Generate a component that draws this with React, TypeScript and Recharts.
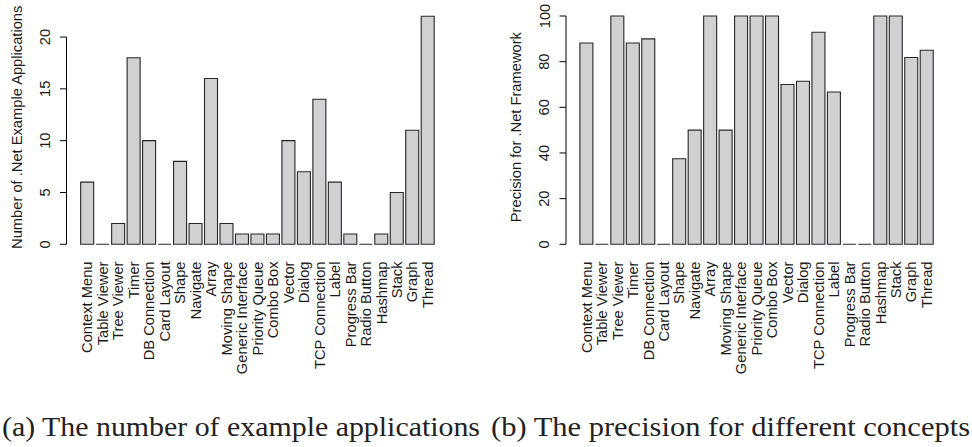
import React from 'react';
import { BarChart, Bar, XAxis, YAxis } from 'recharts';

const categories = [
  'Context Menu', 'Table Viewer', 'Tree Viewer', 'Timer', 'DB Connection', 'Card Layout',
  'Shape', 'Navigate', 'Array', 'Moving Shape', 'Generic Interface', 'Priority Queue',
  'Combo Box', 'Vector', 'Dialog', 'TCP Connection', 'Label', 'Progress Bar',
  'Radio Button', 'Hashmap', 'Stack', 'Graph', 'Thread',
];
const exampleCounts = [6, 0, 2, 18, 10, 0, 8, 2, 16, 2, 1, 1, 1, 10, 7, 14, 6, 1, 0, 1, 5, 11, 22];
const precisionValues = [88.2, 0, 100, 88.2, 90, 0, 37.5, 50, 100, 50, 100, 100, 100, 70, 71.4, 92.9, 66.7, 0, 0, 100, 100, 81.8, 85];
const countTicks = [0, 5, 10, 15, 20];
const precisionTicks = [0, 20, 40, 60, 80, 100];
const countLabel = 'Number of .Net Example Applications';
const precisionLabel = 'Precision for .Net Framework';
const captionA = '(a) The number of example applications';
const captionB = '(b) The precision for different concepts';

const countData = categories.map((name, i) => ({ name, value: exampleCounts[i] }));
const precisionData = categories.map((name, i) => ({ name, value: precisionValues[i] }));

const FONT = '"Liberation Sans", Arial, Helvetica, sans-serif';
const FS = 14.7;
const TEXT = '#1a1a1a';
const TICK_SIZE = 6.5;
const TICK_MARGIN = 2;

const BarShape = (p: any) => {
  const { x, y, width, height } = p;
  return (
    <path
      d={`M${x},${y}h${width}v${height}h${-width}Z`}
      fill="#d0d1d3"
      stroke="#262626"
      strokeWidth={1.1}
    />
  );
};

const XTick = (p: any) => {
  const tx = p.x + 5.3;
  const ty = p.y + 17.2;
  return (
    <text
      x={tx}
      y={ty}
      transform={`rotate(-90, ${tx}, ${ty})`}
      textAnchor="end"
      fontFamily={FONT}
      fontSize={FS}
      fill={TEXT}
    >
      {p.payload.value}
    </text>
  );
};

function makeYTick(ticks: number[], labelOffset: number) {
  const seen: Record<string, number> = {};
  const lo = ticks[0];
  const hi = ticks[ticks.length - 1];
  return (p: any) => {
    const v = p.payload.value;
    seen[String(v)] = p.y;
    const axisX = p.x + TICK_SIZE + TICK_MARGIN;
    const tx = axisX - labelOffset;
    const yLo = seen[String(lo)];
    const yHi = seen[String(hi)];
    const drawLine = (v === lo || v === hi) && yLo !== undefined && yHi !== undefined;
    return (
      <g>
        {drawLine && (
          <line x1={axisX} x2={axisX} y1={yLo} y2={yHi} stroke="#000" strokeWidth={1} />
        )}
        <text
          x={tx}
          y={p.y}
          transform={`rotate(-90, ${tx}, ${p.y})`}
          textAnchor="middle"
          fontFamily={FONT}
          fontSize={FS}
          fill={TEXT}
        >
          {v}
        </text>
      </g>
    );
  };
}

function makeYLabel(text: string, offset: number) {
  return (props: any) => {
    const vb = props.viewBox || {};
    const axisX = vb.x + vb.width;
    const tx = axisX - offset;
    const ty = vb.y + vb.height / 2 - 3;
    return (
      <text
        x={tx}
        y={ty}
        transform={`rotate(-90, ${tx}, ${ty})`}
        textAnchor="middle"
        fontFamily={FONT}
        fontSize={FS}
        fill={TEXT}
      >
        {text}
      </text>
    );
  };
}

interface PanelProps {
  data: { name: string; value: number }[];
  ticks: number[];
  domainMax: number;
  label: string;
  yAxisWidth: number;
  marginTop: number;
  marginRight: number;
  padLeft: number;
}

const Panel = ({ data, ticks, domainMax, label, yAxisWidth, marginTop, marginRight, padLeft }: PanelProps) => {
  const yTick = makeYTick(ticks, 16.5);
  return (
    <BarChart
      width={486}
      height={400}
      data={data}
      margin={{ top: marginTop, right: marginRight, left: 0, bottom: 0 }}
      barCategoryGap="8.333%"
    >
      <XAxis
        dataKey="name"
        type="category"
        interval={0}
        tick={XTick}
        tickLine={false}
        axisLine={false}
        tickSize={0}
        tickMargin={0}
        height={400 - 244.3}
        padding={{ left: padLeft, right: 0 }}
      />
      <YAxis
        type="number"
        domain={[0, domainMax]}
        ticks={ticks}
        interval={0}
        width={yAxisWidth}
        axisLine={false}
        tickLine={{ stroke: '#000', strokeWidth: 1 }}
        tickSize={TICK_SIZE}
        tickMargin={TICK_MARGIN}
        tick={yTick}
        label={{ value: label, content: makeYLabel(label, 44.5) }}
      />
      <Bar dataKey="value" isAnimationActive={false} shape={BarShape} />
    </BarChart>
  );
};

const Caption = ({ text, x, width }: { text: string; x: number; width: number }) => (
  <text
    x={x}
    y={436}
    textLength={width}
    lengthAdjust="spacingAndGlyphs"
    fontFamily='"Liberation Serif", "Times New Roman", serif'
    fontSize={28}
    fill="#222"
  >
    {text}
  </text>
);

export default function App() {
  return (
    <div style={{ position: 'absolute', left: 0, top: 0, width: 972, height: 447, background: '#fff', overflow: 'hidden' }}>
      <div style={{ position: 'absolute', left: 0, top: 0 }}>
        <Panel
          data={countData}
          ticks={countTicks}
          domainMax={22}
          label={countLabel}
          yAxisWidth={66.5}
          marginTop={16.3}
          marginRight={50.6}
          padLeft={12.9}
        />
      </div>
      <div style={{ position: 'absolute', left: 486, top: 0 }}>
        <Panel
          data={precisionData}
          ticks={precisionTicks}
          domainMax={100}
          label={precisionLabel}
          yAxisWidth={80}
          marginTop={16}
          marginRight={37.6}
          padLeft={12.6}
        />
      </div>
      <svg width={972} height={447} style={{ position: 'absolute', left: 0, top: 0, pointerEvents: 'none' }}>
        <Caption text={captionA} x={2} width={478} />
        <Caption text={captionB} x={491} width={479} />
      </svg>
    </div>
  );
}
